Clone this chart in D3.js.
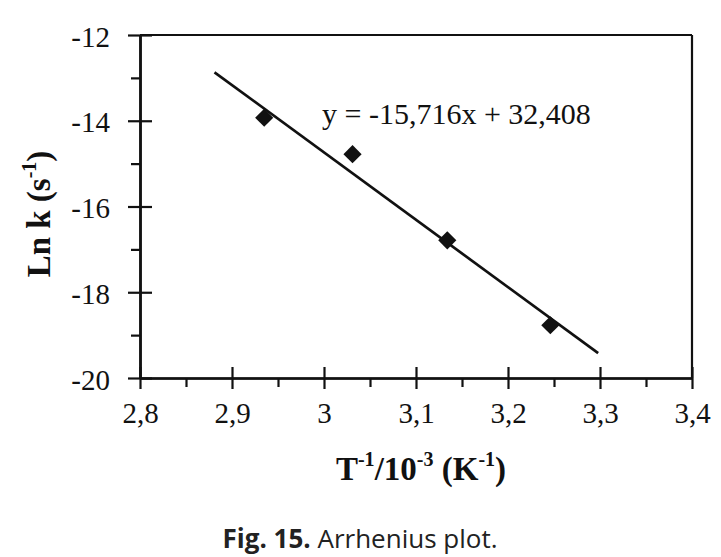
<!DOCTYPE html>
<html>
<head>
<meta charset="utf-8">
<script src="https://cdn.jsdelivr.net/npm/d3@7"></script>
<style>
  html, body { margin: 0; padding: 0; background: #fff; }
  svg { display: block; }
</style>
</head>
<body>
<svg id="chart" width="721" height="557"></svg>
<script>
// ---- data ----
const invT = [2.935, 3.031, 3.134, 3.246];          // T^-1 / 10^-3 (K^-1)
const lnK = [-13.93, -14.78, -16.79, -18.77];        // Ln k (s^-1)
const fitX = [2.881, 3.298];                         // trend line ends
const fitY = [-12.87, -19.42];
const xMajorTicks = [2.8, 2.9, 3.0, 3.1, 3.2, 3.3, 3.4];
const xTickLabels = ["2,8", "2,9", "3", "3,1", "3,2", "3,3", "3,4"];
const xMinorTicks = [2.85, 2.95, 3.05, 3.15, 3.25, 3.35];
const yMajorTicks = [-20, -18, -16, -14, -12];
const yTickLabels = ["-20", "-18", "-16", "-14", "-12"];
const yMinorTicks = [-19, -17, -15, -13];
const equationText = "y = -15,716x + 32,408";
const captionBold = "Fig. 15.";
const captionRest = " Arrhenius plot.";

// ---- layout ----
const svg = d3.select("#chart");
const plotL = 140, plotR = 692, plotT = 35, plotB = 378;
const ink = "#111";
const serif = "'Liberation Serif', 'Times New Roman', serif";

const x = d3.scaleLinear().domain([2.8, 3.4]).range([plotL, plotR]);
const y = d3.scaleLinear().domain([-20, -12]).range([plotB, plotT]);

function styleAxis(g) {
  g.selectAll("path.domain").attr("stroke", ink).attr("stroke-width", 2.2);
  g.selectAll(".tick line").attr("stroke", ink).attr("stroke-width", 2.2);
  g.selectAll("text").attr("font-family", serif).attr("font-size", 29).attr("fill", ink);
}

// frame top & right
svg.append("line").attr("x1", x(2.8)).attr("x2", x(3.4)).attr("y1", y(-12)).attr("y2", y(-12))
  .attr("stroke", ink).attr("stroke-width", 2.2);
svg.append("line").attr("x1", x(3.4)).attr("x2", x(3.4)).attr("y1", y(-12)).attr("y2", y(-20))
  .attr("stroke", ink).attr("stroke-width", 2.2);

// x axis: majors outside w/ labels
const gx = svg.append("g").attr("transform", `translate(0,${plotB})`)
  .call(d3.axisBottom(x).tickValues(xMajorTicks).tickSize(11).tickPadding(13).tickSizeOuter(0)
    .tickFormat((d, i) => xTickLabels[i]));
styleAxis(gx);
// x majors inside
const gxIn = svg.append("g").attr("transform", `translate(0,${plotB})`)
  .call(d3.axisTop(x).tickValues(xMajorTicks).tickSize(11).tickFormat("").tickSizeOuter(0));
styleAxis(gxIn);
// x minors outside
const gxMin = svg.append("g").attr("transform", `translate(0,${plotB})`)
  .call(d3.axisBottom(x).tickValues(xMinorTicks).tickSize(9).tickFormat("").tickSizeOuter(0));
styleAxis(gxMin);

// y axis majors outside w/ labels
const gy = svg.append("g").attr("transform", `translate(${plotL},0)`)
  .call(d3.axisLeft(y).tickValues(yMajorTicks).tickSize(12).tickPadding(18).tickSizeOuter(0)
    .tickFormat((d, i) => yTickLabels[i]));
styleAxis(gy);
gy.selectAll("text").attr("dy", "0.38em");
const gyIn = svg.append("g").attr("transform", `translate(${plotL},0)`)
  .call(d3.axisRight(y).tickValues(yMajorTicks).tickSize(12).tickFormat("").tickSizeOuter(0));
styleAxis(gyIn);
const gyMin = svg.append("g").attr("transform", `translate(${plotL},0)`)
  .call(d3.axisLeft(y).tickValues(yMinorTicks).tickSize(9).tickFormat("").tickSizeOuter(0));
styleAxis(gyMin);

// trend line
svg.append("path")
  .datum(fitX.map((v, i) => [v, fitY[i]]))
  .attr("d", d3.line().x(d => x(d[0])).y(d => y(d[1])))
  .attr("fill", "none").attr("stroke", ink).attr("stroke-width", 2.7);

// points (diamonds)
const diamond = d3.symbol().type(d3.symbolSquare).size(165);
svg.append("g").selectAll("path")
  .data(invT.map((v, i) => [v, lnK[i]]))
  .join("path")
  .attr("d", diamond)
  .attr("transform", d => `translate(${x(d[0])},${y(d[1])}) rotate(45)`)
  .attr("fill", ink);

// equation
svg.append("text")
  .attr("x", 322).attr("y", 124)
  .attr("font-family", serif).attr("font-size", 30).attr("fill", ink)
  .text(equationText);

// y title
const yt = svg.append("text")
  .attr("transform", `translate(50,214) rotate(-90)`)
  .attr("text-anchor", "middle")
  .attr("font-family", serif).attr("font-size", 33).attr("font-weight", "bold").attr("fill", ink);
yt.append("tspan").text("Ln k (s");
yt.append("tspan").attr("dy", -14).attr("font-size", 20).text("-1");
yt.append("tspan").attr("dy", 14).text(")");

// x title
const xt = svg.append("text")
  .attr("x", 421).attr("y", 480)
  .attr("text-anchor", "middle")
  .attr("font-family", serif).attr("font-size", 33).attr("font-weight", "bold").attr("fill", ink);
xt.append("tspan").text("T");
xt.append("tspan").attr("dy", -14).attr("font-size", 20).text("-1");
xt.append("tspan").attr("dy", 14).text("/10");
xt.append("tspan").attr("dy", -14).attr("font-size", 20).text("-3");
xt.append("tspan").attr("dy", 14).text(" (K");
xt.append("tspan").attr("dy", -14).attr("font-size", 20).text("-1");
xt.append("tspan").attr("dy", 14).text(")");

// caption
const cap = svg.append("text")
  .attr("x", 360).attr("y", 548)
  .attr("text-anchor", "middle")
  .attr("font-family", "'Open Sans', 'Noto Sans', sans-serif").attr("font-size", 26).attr("fill", "#222");
cap.append("tspan").attr("font-weight", "bold").text(captionBold);
cap.append("tspan").text(captionRest);
</script>
</body>
</html>
